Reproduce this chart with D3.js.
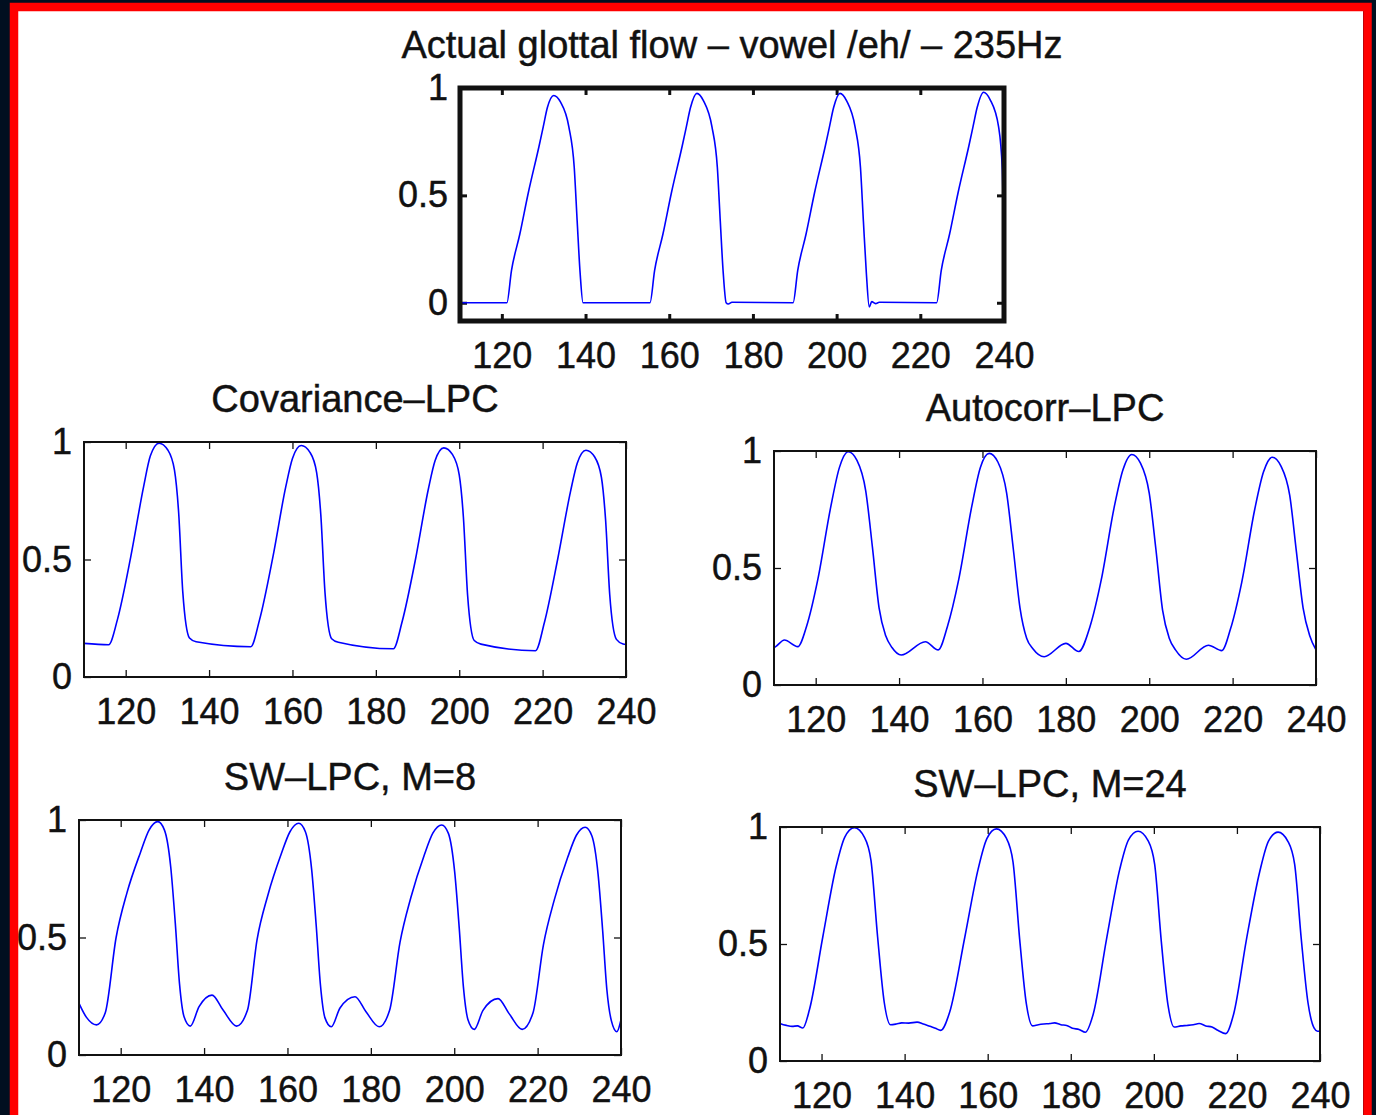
<!DOCTYPE html>
<html>
<head>
<meta charset="utf-8">
<script src="https://cdn.jsdelivr.net/npm/d3@7/dist/d3.min.js"></script>
<style>
  html, body { margin: 0; padding: 0; background: #010f20; }
  svg { display: block; }
  .tick text, .title {
    font-family: "Liberation Sans", Arial, sans-serif;
    fill: #111;
    stroke: #111;
    stroke-width: 0.45px;
  }
</style>
</head>
<body>
<svg id="chart"></svg>
<script>
// ---- data ----
const xTicks = [120, 140, 160, 180, 200, 220, 240];
const yTicks = [0, 0.5, 1];
const titles = [
  'Actual glottal flow \u2013 vowel /eh/ \u2013 235Hz',
  'Covariance\u2013LPC',
  'Autocorr\u2013LPC',
  'SW\u2013LPC, M=8',
  'SW\u2013LPC, M=24'
];

const actualFlow = [
  [110, 0], [121.2, 0], [122.3, 0.15], [124.3, 0.32], [126.3, 0.51], [128.9, 0.73], [129.9, 0.82],
  [130.9, 0.91], [132.4, 0.965], [134.0, 0.935], [136.0, 0.82], [137.3, 0.63], [138.0, 0.38],
  [138.7, 0.14], [139.4, 0],
  [155.4, 0], [156.5, 0.15], [158.5, 0.32], [160.5, 0.51], [163.1, 0.73], [164.1, 0.82],
  [165.1, 0.91], [166.6, 0.975], [168.2, 0.94], [170.2, 0.82], [171.5, 0.63], [172.2, 0.38],
  [172.9, 0.14], [173.6, 0], [174.1, -0.006], [175.0, 0.002],
  [189.6, 0], [190.7, 0.15], [192.7, 0.32], [194.7, 0.51], [197.3, 0.73], [198.3, 0.82],
  [199.3, 0.91], [200.8, 0.975], [202.4, 0.94], [204.4, 0.82], [205.7, 0.63], [206.4, 0.38],
  [207.1, 0.14], [207.8, -0.02], [208.4, 0.005], [209.3, -0.004], [210.2, 0.002],
  [223.9, 0], [225.0, 0.15], [227.0, 0.32], [229.0, 0.51], [231.6, 0.73], [232.6, 0.82],
  [233.6, 0.91], [235.1, 0.98], [236.7, 0.945], [238.7, 0.82], [239.6, 0.62], [240, 0.15]
];

const covarianceLpc = [
  [110, 0.143], [115.9, 0.137], [118.0, 0.243], [121.2, 0.51], [124.3, 0.81], [125.9, 0.94],
  [128.0, 0.995], [130.1, 0.966], [131.7, 0.88], [132.7, 0.70], [133.7, 0.36], [135.3, 0.166],
  [136.9, 0.15], [150.0, 0.129],
  [152.1, 0.243], [155.3, 0.51], [158.4, 0.81], [160.0, 0.93], [162.1, 0.985], [164.2, 0.956],
  [165.8, 0.87], [166.8, 0.69], [167.8, 0.36], [169.4, 0.163], [171.0, 0.148], [184.2, 0.12],
  [186.3, 0.235], [189.5, 0.50], [192.6, 0.80], [194.2, 0.92], [196.3, 0.975], [198.4, 0.946],
  [200.0, 0.86], [201.0, 0.68], [202.0, 0.35], [203.6, 0.155], [205.2, 0.14], [218.3, 0.112],
  [220.4, 0.23], [223.6, 0.50], [226.7, 0.79], [228.3, 0.91], [230.4, 0.965], [232.5, 0.936],
  [234.1, 0.85], [235.1, 0.67], [236.1, 0.35], [237.7, 0.16], [239.3, 0.14], [240, 0.138]
];

const autocorrLpc = [
  [110, 0.16], [110.4, 0.164], [112.5, 0.192], [115.7, 0.164], [117.8, 0.25], [120.5, 0.45],
  [123.6, 0.76], [125.7, 0.93], [127.8, 0.997], [129.9, 0.96], [132.0, 0.83], [133.6, 0.59],
  [135.2, 0.33], [136.8, 0.21], [138.3, 0.16], [140.5, 0.128], [146.3, 0.185], [149.4, 0.15],
  [151.6, 0.25], [154.3, 0.45], [157.4, 0.76], [159.5, 0.93], [161.6, 0.99], [163.7, 0.953],
  [165.8, 0.82], [167.4, 0.58], [169.0, 0.33], [170.6, 0.2], [172.1, 0.155], [174.8, 0.121],
  [180.0, 0.178], [183.1, 0.143],
  [185.8, 0.25], [188.5, 0.45], [191.6, 0.76], [193.7, 0.92], [195.8, 0.985], [197.9, 0.948],
  [200.0, 0.82], [201.6, 0.58], [203.2, 0.32], [204.8, 0.2], [206.3, 0.15], [208.9, 0.11],
  [214.2, 0.17], [217.4, 0.147],
  [219.5, 0.24], [222.2, 0.44], [225.3, 0.75], [227.4, 0.91], [229.5, 0.973], [231.6, 0.935],
  [233.7, 0.81], [235.3, 0.57], [236.9, 0.33], [238.5, 0.21], [240, 0.15]
];

const swLpcM8 = [
  [110, 0.22], [111.8, 0.16], [114.2, 0.128], [116.3, 0.18], [118.9, 0.50], [121.5, 0.69],
  [124.7, 0.86], [126.8, 0.957], [128.9, 0.993], [130.5, 0.957], [132.0, 0.80], [133.1, 0.56],
  [134.1, 0.305], [135.2, 0.163], [136.7, 0.123], [138.8, 0.206], [141.9, 0.255], [144.6, 0.19],
  [147.8, 0.123], [150.4, 0.19],
  [152.7, 0.49], [155.3, 0.68], [158.5, 0.855], [160.6, 0.95], [162.7, 0.986], [164.3, 0.95],
  [165.8, 0.79], [166.9, 0.55], [167.9, 0.3], [169.0, 0.158], [170.5, 0.12], [172.6, 0.2],
  [176.2, 0.248], [178.8, 0.185], [182.0, 0.12], [184.5, 0.19],
  [187.0, 0.48], [189.6, 0.67], [192.8, 0.85], [194.9, 0.945], [197.0, 0.979], [198.6, 0.943],
  [200.1, 0.78], [201.2, 0.54], [202.2, 0.29], [203.3, 0.15], [204.8, 0.109], [206.9, 0.19],
  [210.5, 0.24], [213.2, 0.175], [216.3, 0.109], [218.9, 0.18],
  [221.4, 0.47], [224.0, 0.66], [227.2, 0.84], [229.3, 0.935], [231.4, 0.969], [233.0, 0.933],
  [234.5, 0.77], [235.6, 0.53], [236.6, 0.28], [237.7, 0.145], [239.0, 0.099], [240, 0.15]
];

const swLpcM24 = [
  [110, 0.16], [110.3, 0.158], [111.6, 0.152], [112.9, 0.148], [114.2, 0.15], [115.5, 0.141],
  [117.1, 0.22], [120.3, 0.53], [123.5, 0.83], [125.6, 0.957], [127.9, 0.997], [130.3, 0.957],
  [131.9, 0.857], [133.5, 0.53], [135.1, 0.25], [136.6, 0.155], [138.0, 0.158], [139.3, 0.163],
  [141.0, 0.162], [143.0, 0.166], [144.5, 0.158], [146.1, 0.148], [147.4, 0.14], [148.7, 0.131],
  [150.8, 0.206],
  [154.5, 0.53], [157.7, 0.82], [159.8, 0.95], [162.1, 0.992], [164.5, 0.952], [166.1, 0.85],
  [167.7, 0.52], [169.3, 0.245], [170.8, 0.15], [172.2, 0.155], [173.5, 0.158], [175.0, 0.16],
  [176.1, 0.163], [177.6, 0.155], [179.0, 0.152], [180.4, 0.14], [182.0, 0.135], [183.5, 0.123],
  [185.4, 0.2],
  [188.6, 0.52], [191.8, 0.82], [193.9, 0.945], [196.2, 0.982], [198.6, 0.942], [200.2, 0.84],
  [201.8, 0.51], [203.4, 0.24], [204.9, 0.145], [206.5, 0.15], [208.0, 0.152], [209.5, 0.155],
  [210.9, 0.16], [212.5, 0.15], [214.0, 0.145], [215.5, 0.13], [217.3, 0.117], [219.2, 0.2],
  [222.3, 0.52], [225.5, 0.81], [227.6, 0.94], [229.9, 0.978], [232.3, 0.938], [233.9, 0.84],
  [235.5, 0.52], [237.1, 0.25], [238.6, 0.14], [239.4, 0.127], [240, 0.128]
];

// ---- layout ----
const W = 1376, H = 1115;
const TICK_FONT = 36;
const TITLE_FONT = 38;

const panels = [
  { title: titles[0], data: actualFlow,    x0: 460, x1: 1004, y0: 88,  y1: 321,  yMin: -0.085, frame: 5 },
  { title: titles[1], data: covarianceLpc, x0: 84,  x1: 626,  y0: 442, y1: 677,  yMin: 0, frame: 2 },
  { title: titles[2], data: autocorrLpc,   x0: 774, x1: 1316, y0: 451, y1: 685,  yMin: 0, frame: 2 },
  { title: titles[3], data: swLpcM8,       x0: 79,  x1: 621,  y0: 820, y1: 1055, yMin: 0, frame: 2 },
  { title: titles[4], data: swLpcM24,      x0: 780, x1: 1320, y0: 827, y1: 1061, yMin: 0, frame: 2 }
];

const svg = d3.select('#chart').attr('width', W).attr('height', H);

svg.append('rect').attr('width', W).attr('height', H).attr('fill', '#010f20');
svg.append('rect').attr('x', 18).attr('y', 11).attr('width', 1345).attr('height', H)
  .attr('fill', '#fff');

const defs = svg.append('defs');

panels.forEach((p, i) => {
  const x = d3.scaleLinear().domain([110, 240]).range([p.x0, p.x1]);
  const y = d3.scaleLinear().domain([p.yMin, 1]).range([p.y1, p.y0]);
  const g = svg.append('g');

  defs.append('clipPath').attr('id', `clip${i}`)
    .append('rect')
    .attr('x', p.x0).attr('y', p.y0)
    .attr('width', p.x1 - p.x0).attr('height', p.y1 - p.y0);

  const tick = 7;
  const tickW = p.frame > 3 ? 3 : 1.3;

  const bottom = g.append('g')
    .attr('transform', `translate(0,${p.y1})`)
    .call(d3.axisBottom(x).tickValues(xTicks).tickSize(-tick).tickPadding(21));
  const top = g.append('g')
    .attr('transform', `translate(0,${p.y0})`)
    .call(d3.axisTop(x).tickValues(xTicks).tickSize(-tick).tickFormat(''));
  const left = g.append('g')
    .attr('transform', `translate(${p.x0},0)`)
    .call(d3.axisLeft(y).tickValues(yTicks).tickSize(-tick).tickPadding(12)
      .tickFormat(d3.format('')));
  const right = g.append('g')
    .attr('transform', `translate(${p.x1},0)`)
    .call(d3.axisRight(y).tickValues(yTicks).tickSize(-tick).tickFormat(''));

  [bottom, top, left, right].forEach(a => {
    a.select('.domain').remove();
    a.selectAll('.tick line').attr('stroke', '#111').attr('stroke-width', tickW);
    a.selectAll('.tick text').style('font-size', TICK_FONT + 'px');
  });

  g.append('path')
    .datum(p.data)
    .attr('clip-path', `url(#clip${i})`)
    .attr('fill', 'none')
    .attr('stroke', '#0000ff')
    .attr('stroke-width', 1.6)
    .attr('d', d3.line().x(d => x(d[0])).y(d => y(d[1])).curve(d3.curveMonotoneX));

  g.append('rect')
    .attr('x', p.x0).attr('y', p.y0)
    .attr('width', p.x1 - p.x0).attr('height', p.y1 - p.y0)
    .attr('fill', 'none')
    .attr('stroke', '#111')
    .attr('stroke-width', p.frame);

  g.append('text')
    .attr('class', 'title')
    .attr('x', (p.x0 + p.x1) / 2)
    .attr('y', p.y0 - 43)
    .attr('dy', '0.35em')
    .attr('text-anchor', 'middle')
    .style('font-size', TITLE_FONT + 'px')
    .text(p.title);
});

// red frame on top of everything
svg.append('path')
  .attr('d', `M14,${H} V7 H1367.5 V${H}`)
  .attr('fill', 'none')
  .attr('stroke', '#ff0000')
  .attr('stroke-width', 8.5);
</script>
</body>
</html>
